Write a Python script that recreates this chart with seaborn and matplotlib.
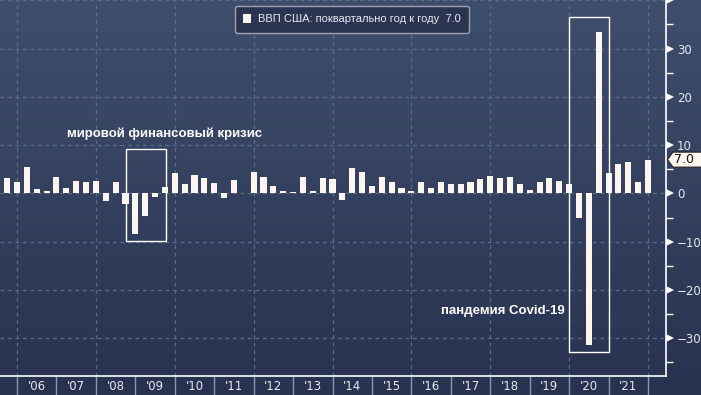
import numpy as np
import pandas as pd
import matplotlib
matplotlib.use("Agg")
import matplotlib.pyplot as plt
import seaborn as sns
from matplotlib.patches import Rectangle, Polygon, Patch
from matplotlib.colors import LinearSegmentedColormap
from matplotlib.ticker import MultipleLocator

# ---------------- data ----------------
quarters = pd.period_range("2005Q2", "2021Q4", freq="Q")
gdp_qoq = [
    1.9, 3.1, 2.3,                 # 2005 Q2-Q4
    5.4, 1.0, 0.6, 3.3,            # 2006
    1.2, 2.5, 2.3, 2.5,            # 2007
    -1.6, 2.3, -2.1, -8.4,         # 2008
    -4.7, -0.8, 1.4, 4.2,          # 2009
    1.9, 3.9, 3.1, 2.1,            # 2010
    -1.0, 2.7, 0.1, 4.5,           # 2011
    3.3, 1.6, 0.6, 0.4,            # 2012
    3.5, 0.6, 3.1, 2.9,            # 2013
    -1.4, 5.2, 4.5, 1.6,           # 2014
    3.3, 2.3, 1.2, 0.6,            # 2015
    2.3, 1.2, 2.3, 1.9,            # 2016
    1.9, 2.3, 2.9, 3.7,            # 2017
    3.1, 3.3, 1.9, 0.8,            # 2018
    2.3, 3.1, 2.6, 1.9,            # 2019
    -5.1, -31.4, 33.4, 4.3,        # 2020
    6.1, 6.5, 2.3, 7.0,            # 2021
]
year_labels = ["'06", "'07", "'08", "'09", "'10", "'11", "'12", "'13",
               "'14", "'15", "'16", "'17", "'18", "'19", "'20", "'21"]
label_years = list(range(2006, 2022))
series_name = "ВВП США: поквартально год к году"
crisis_text = "мировой финансовый кризис"
covid_text = "пандемия Covid-19"

# bars placed at quarter-end dates (fractional years)
qpos = [p.year + p.quarter / 4 for p in quarters]
df = pd.DataFrame({"pos": qpos, "val": gdp_qoq})

# ---------------- style ----------------
W, H = 701, 395
bar_color = "#fff5f0"
grid_color = "#596c8b"
text_color = "#e6e9ef"

fig = plt.figure(figsize=(W / 100, H / 100), dpi=100)

# background gradient
bg = fig.add_axes([0, 0, 1, 1], zorder=-10)
cmap = LinearSegmentedColormap.from_list("bg", ["#283250", "#3f4e6d"])
grad = np.linspace(0, 1, 256).reshape(-1, 1)
bg.imshow(grad, aspect="auto", cmap=cmap, origin="lower", extent=[0, 1, 0, 1])
bg.set_axis_off()

ax = fig.add_axes([0, 19 / H, 666 / W, 376 / H])
ax.patch.set_alpha(0)

sns.barplot(data=df, x="pos", y="val", native_scale=True, color=bar_color,
            saturation=1, width=0.62, errorbar=None, ax=ax, zorder=3,
            edgecolor="none", linewidth=0)

ax.set_xlim(2005.569, 2022.456)
ax.set_ylim(-37.8, 40.05)
ax.set_xlabel("")
ax.set_ylabel("")

# spines
for s in ["left", "top"]:
    ax.spines[s].set_visible(False)
for s in ["bottom", "right"]:
    ax.spines[s].set_color("white")
    ax.spines[s].set_linewidth(1.2)

# x axis: year separators + year labels
ax.set_xticks(np.arange(2006, 2023))
ax.set_xticks([y + 0.5 for y in label_years], labels=year_labels, minor=True)
ax.tick_params(axis="x", which="major", length=13.7, width=1,
               color="#8d96a8", direction="out", labelbottom=False)
ax.tick_params(axis="x", which="minor", length=0, pad=3.2,
               labelsize=8.5, labelcolor=text_color)

# y axis on the right
yt = list(range(-30, 41, 10))
ax.yaxis.tick_right()
ax.set_yticks(yt, labels=[("" if v == 40 else f"{v}".replace("-", "\u2212")) for v in yt])
ax.yaxis.set_minor_locator(MultipleLocator(5))
ax.tick_params(axis="y", which="major", length=0, pad=8, labelsize=8.5,
               labelcolor=text_color)
ax.tick_params(axis="y", which="minor", length=5, width=1, color="white",
               direction="out")
ax.plot([1.0 + 4 / 666] * len(yt), yt, linestyle="none", marker=">",
        markersize=5.5, color="white", markeredgewidth=0,
        transform=ax.get_yaxis_transform(), clip_on=False, zorder=5)

# grid
ax.grid(axis="y", which="major", color=grid_color,
        linestyle=(0, (3, 3)), linewidth=0.9)
ax.grid(axis="x", visible=False)
for yr in range(2006, 2023, 2):
    ax.axvline(yr, color=grid_color, linestyle=(0, (3, 3)), linewidth=0.9, zorder=0.5)
ax.set_axisbelow(True)

# annotation boxes
ax.add_patch(Rectangle((2008.77, -9.9), 1.0, 19.0, fill=False,
                       edgecolor="white", linewidth=1, zorder=4))
ax.add_patch(Rectangle((2020.005, -32.9), 1.015, 69.5, fill=False,
                       edgecolor="white", linewidth=1, zorder=4))
ax.text(2009.75, 12.4, crisis_text, ha="center", va="center", color="white",
        fontsize=9.5, fontweight="bold", family="Liberation Sans", zorder=6)
ax.text(2018.32, -24.4, covid_text, ha="center", va="center", color="white",
        fontsize=9.5, fontweight="bold", family="Liberation Sans", zorder=6)

# legend
last_val = gdp_qoq[-1]
leg = ax.legend(handles=[Patch(facecolor=bar_color, edgecolor="none")],
                labels=[f"{series_name}  {last_val:.1f}"],
                loc="upper center", bbox_to_anchor=(352 / 666, 1 - 6 / 376),
                frameon=True, fancybox=True, framealpha=1,
                facecolor="#2b3551", edgecolor="#9aa2b4",
                prop={"family": "Liberation Sans", "size": 8},
                labelcolor=text_color, handlelength=0.75, handleheight=0.75,
                borderpad=0.75, handletextpad=0.6, borderaxespad=0)
leg.get_frame().set_linewidth(1)

# last value tag on the right
px = 1 / 666
dy = 7.5 / 4.833
tag = Polygon([(1 + 1.5 * px, last_val), (1 + 7 * px, last_val + dy),
               (1 + 40 * px, last_val + dy), (1 + 40 * px, last_val - dy),
               (1 + 7 * px, last_val - dy)], closed=True,
              facecolor=bar_color, edgecolor="#222222", linewidth=0.8,
              transform=ax.get_yaxis_transform(), clip_on=False, zorder=7)
ax.add_patch(tag)
ax.text(1 + 18 * px, last_val, f"{last_val:.1f}", ha="center", va="center",
        fontsize=9, color="#111111", transform=ax.get_yaxis_transform(),
        clip_on=False, zorder=8)

fig.savefig("out.png", dpi=100)
